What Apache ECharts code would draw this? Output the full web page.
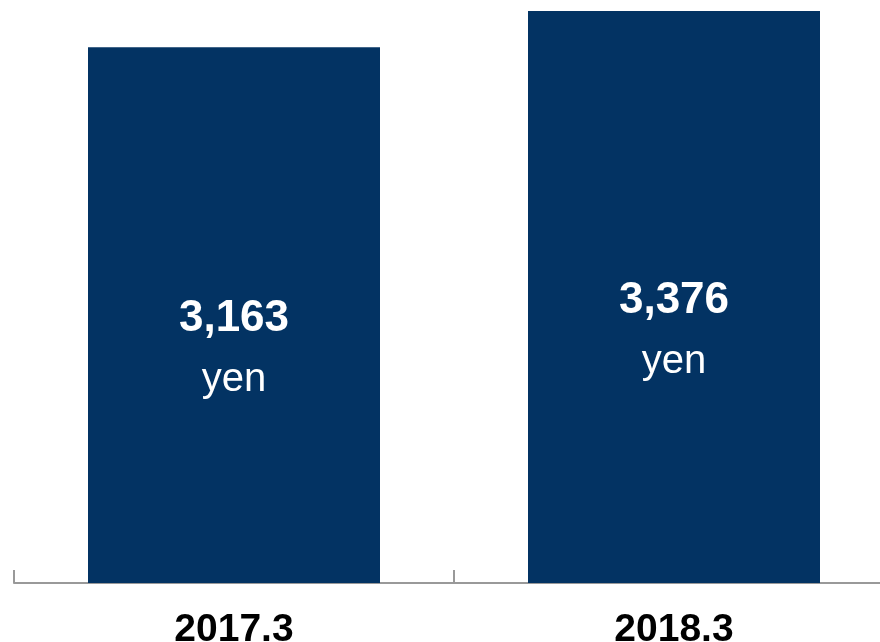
<!DOCTYPE html>
<html><head><meta charset="utf-8">
<script src="https://cdn.jsdelivr.net/npm/echarts@6/dist/echarts.min.js"></script>
<style>html,body{margin:0;padding:0;background:#fff}#c{width:880px;height:642px}</style>
</head><body><div id="c"></div>
<script>
const categories = ['2017.3', '2018.3'];
const values = [3163, 3376];
const unit = 'yen';

const chart = echarts.init(document.getElementById('c'));
chart.setOption({
  animation: false,
  grid: { left: 14, width: 880, top: 7, bottom: 59, containLabel: false, outerBoundsMode: 'none' },
  xAxis: {
    type: 'category', data: categories,
    axisLine: { lineStyle: { color: '#999', width: 2 } },
    axisTick: { show: true, inside: true, length: 13, lineStyle: { color: '#999', width: 2 } },
    axisLabel: { margin: 28, fontFamily: 'Liberation Sans', fontSize: 39, fontWeight: 'bold', color: '#000' }
  },
  yAxis: { type: 'value', min: 0, max: 3400, show: false, splitLine: { show: false } },
  series: [{
    type: 'bar', data: values, barWidth: 292,
    itemStyle: { color: '#033363' },
    label: {
      show: true, position: 'inside', offset: [0, 34],
      formatter: p => '{v|' + p.value.toLocaleString('en-US') + '}\n{u|' + unit + '}',
      rich: {
        v: { fontFamily: 'Liberation Sans', fontSize: 44, fontWeight: 'bold', color: '#fff', lineHeight: 61 },
        u: { fontFamily: 'Liberation Sans', fontSize: 40, color: '#fff', lineHeight: 61 }
      }
    }
  }]
});
</script></body></html>
